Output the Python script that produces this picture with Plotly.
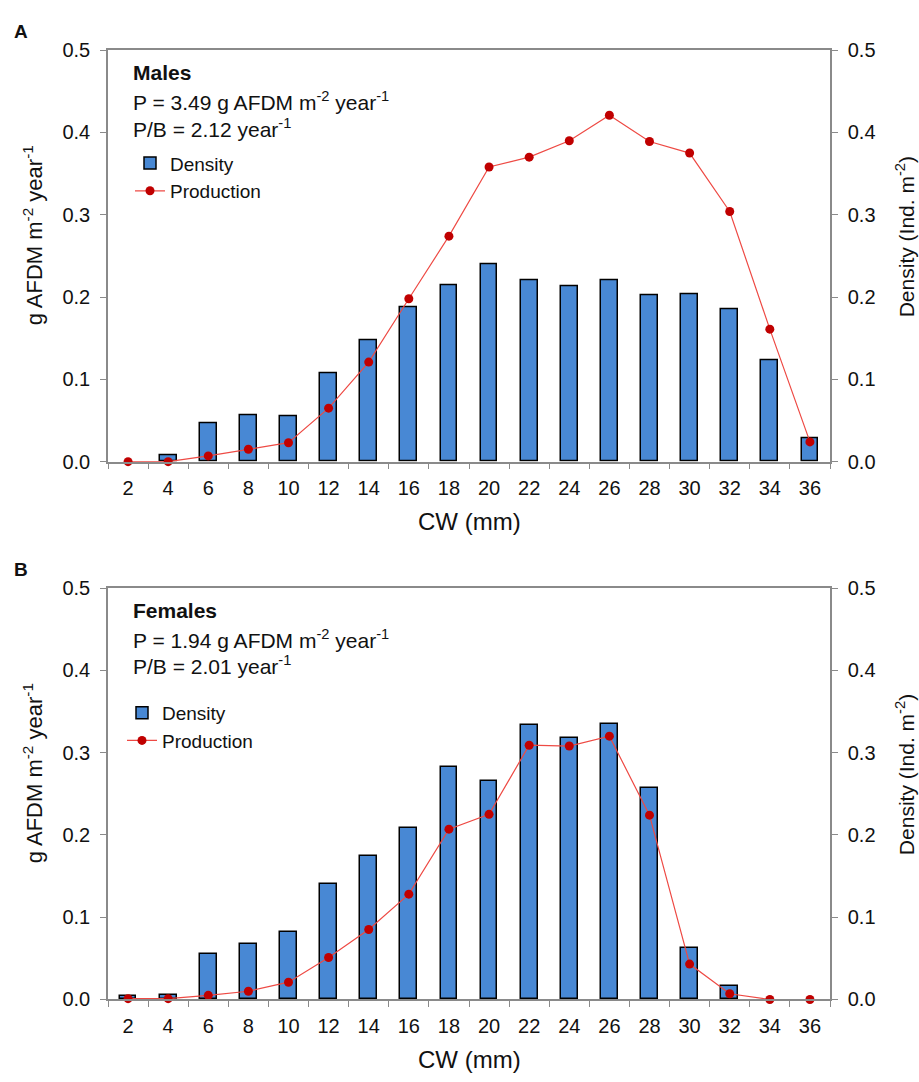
import plotly.graph_objects as go

W, H = 919, 1082

# ---------------- data ----------------
cw_labels = ["2", "4", "6", "8", "10", "12", "14", "16", "18", "20",
             "22", "24", "26", "28", "30", "32", "34", "36"]

# None = no bar visible in the reference
male_density = [None, 0.008, 0.047, 0.057, 0.055, 0.107, 0.147, 0.188, 0.215,
                0.240, 0.220, 0.213, 0.220, 0.202, 0.203, 0.185, 0.123, 0.029]
male_production = [0.0, 0.0, 0.007, 0.015, 0.023, 0.065, 0.121, 0.198, 0.274,
                   0.358, 0.370, 0.390, 0.421, 0.389, 0.375, 0.304, 0.161, 0.024]

female_density = [0.004, 0.006, 0.055, 0.067, 0.082, 0.140, 0.174, 0.208, 0.282,
                  0.266, 0.333, 0.318, 0.335, 0.257, 0.062, 0.016, None, None]
female_production = [0.001, 0.001, 0.005, 0.010, 0.021, 0.051, 0.085, 0.128, 0.207,
                     0.225, 0.309, 0.308, 0.320, 0.224, 0.043, 0.007, 0.0, 0.0]

y_ticks = [0.0, 0.1, 0.2, 0.3, 0.4, 0.5]

# ---------------- style ----------------
FONT = "Liberation Sans, Arial, sans-serif"
BAR_COLOR = "#4888d4"
LINE_COLOR = "#ee4a44"
MARKER_COLOR = "#c00000"
AXIS_COLOR = "#8a8a8a"
TXT = "#111111"


def px_x(px):
    return px / W


def px_y(py):
    return 1 - py / H


x_dom = [px_x(108), px_x(830)]
top_dom = [px_y(460), px_y(40)]
bot_dom = [px_y(1009), px_y(589)]

fig = go.Figure()

# top panel (males)
fig.add_trace(go.Bar(x=cw_labels, y=male_density, name="Density",
                     marker=dict(color=BAR_COLOR, line=dict(color="#000000", width=1.5)),
                     width=0.42, xaxis="x", yaxis="y", legend="legend"))
fig.add_trace(go.Scatter(x=cw_labels, y=male_production, name="Production",
                         mode="lines+markers",
                         line=dict(color=LINE_COLOR, width=1.2),
                         marker=dict(color=MARKER_COLOR, size=9),
                         cliponaxis=False, xaxis="x", yaxis="y2", legend="legend"))

# bottom panel (females)
fig.add_trace(go.Bar(x=cw_labels, y=female_density, name="Density",
                     marker=dict(color=BAR_COLOR, line=dict(color="#000000", width=1.5)),
                     width=0.42, xaxis="x2", yaxis="y3", legend="legend2"))
fig.add_trace(go.Scatter(x=cw_labels, y=female_production, name="Production",
                         mode="lines+markers",
                         line=dict(color=LINE_COLOR, width=1.2),
                         marker=dict(color=MARKER_COLOR, size=9),
                         cliponaxis=False, xaxis="x2", yaxis="y4", legend="legend2"))

xcommon = dict(type="category", range=[-0.5, len(cw_labels) - 0.5], domain=x_dom,
               showline=True, mirror=True, linecolor=AXIS_COLOR, linewidth=1.5,
               ticks="outside", tickson="boundaries", ticklen=6, tickwidth=1.2,
               tickcolor=AXIS_COLOR, showgrid=False, zeroline=False,
               tickfont=dict(family=FONT, size=20, color=TXT),
               ticklabelstandoff=8, fixedrange=True)

ycommon = dict(range=[0, 0.5], tickvals=y_ticks, tickformat=".1f",
               showline=True, linecolor=AXIS_COLOR, linewidth=1.5,
               ticks="outside", ticklen=6, tickwidth=1.2, tickcolor=AXIS_COLOR,
               showgrid=False, zeroline=False,
               tickfont=dict(family=FONT, size=20, color=TXT),
               ticklabelstandoff=6, fixedrange=True)

fig.update_layout(
    width=W, height=H,
    margin=dict(l=0, r=0, t=0, b=0),
    paper_bgcolor="white", plot_bgcolor="white",
    bargap=0,
    xaxis=dict(anchor="y", **xcommon),
    yaxis=dict(anchor="x", side="right", domain=top_dom, **ycommon),
    yaxis2=dict(anchor="x", side="left", overlaying="y", **ycommon),
    xaxis2=dict(anchor="y3", **xcommon),
    yaxis3=dict(anchor="x2", side="right", domain=bot_dom, **ycommon),
    yaxis4=dict(anchor="x2", side="left", overlaying="y3", **ycommon),
    legend=dict(x=px_x(130), y=px_y(136), xanchor="left", yanchor="top",
                bgcolor="rgba(0,0,0,0)", font=dict(family=FONT, size=19, color=TXT),
                tracegroupgap=0, itemwidth=30),
    legend2=dict(x=px_x(122), y=px_y(697), xanchor="left", yanchor="top",
                 bgcolor="rgba(0,0,0,0)", font=dict(family=FONT, size=19, color=TXT),
                 tracegroupgap=0, itemwidth=30),
    showlegend=True,
)

annotations = []


def txt(text, x, y, size=20, xanchor="left", angle=0, bold=False):
    annotations.append(dict(
        text=f"<b>{text}</b>" if bold else text,
        x=px_x(x), y=px_y(y), xref="paper", yref="paper",
        xanchor=xanchor, yanchor="middle", showarrow=False, textangle=angle,
        font=dict(family=FONT, size=size, color=TXT)))


panels = [
    (0, "A", "Males", "P = 3.49 g AFDM m<sup>-2</sup> year<sup>-1</sup>",
     "P/B = 2.12 year<sup>-1</sup>"),
    (549, "B", "Females", "P = 1.94 g AFDM m<sup>-2</sup> year<sup>-1</sup>",
     "P/B = 2.01 year<sup>-1</sup>"),
]
for off, letter, sex, ptxt, pbtxt in panels:
    txt(letter, 12, 21 + off, size=19, bold=True)
    txt(sex, 131, 63 + off, size=21, bold=True)
    txt(ptxt, 131, 92 + off, size=21)
    txt(pbtxt, 131, 119 + off, size=21)
    txt("g AFDM m<sup>-2</sup> year<sup>-1</sup>", 33, 229 + off, size=22,
        xanchor="center", angle=-90)
    txt("Density (Ind. m<sup>-2</sup>)", 905, 231 + off, size=21,
        xanchor="center", angle=-90)
    txt("CW (mm)", 469, 521 + off, size=24, xanchor="center")

fig.update_layout(annotations=annotations)

fig.write_html("out.html")
